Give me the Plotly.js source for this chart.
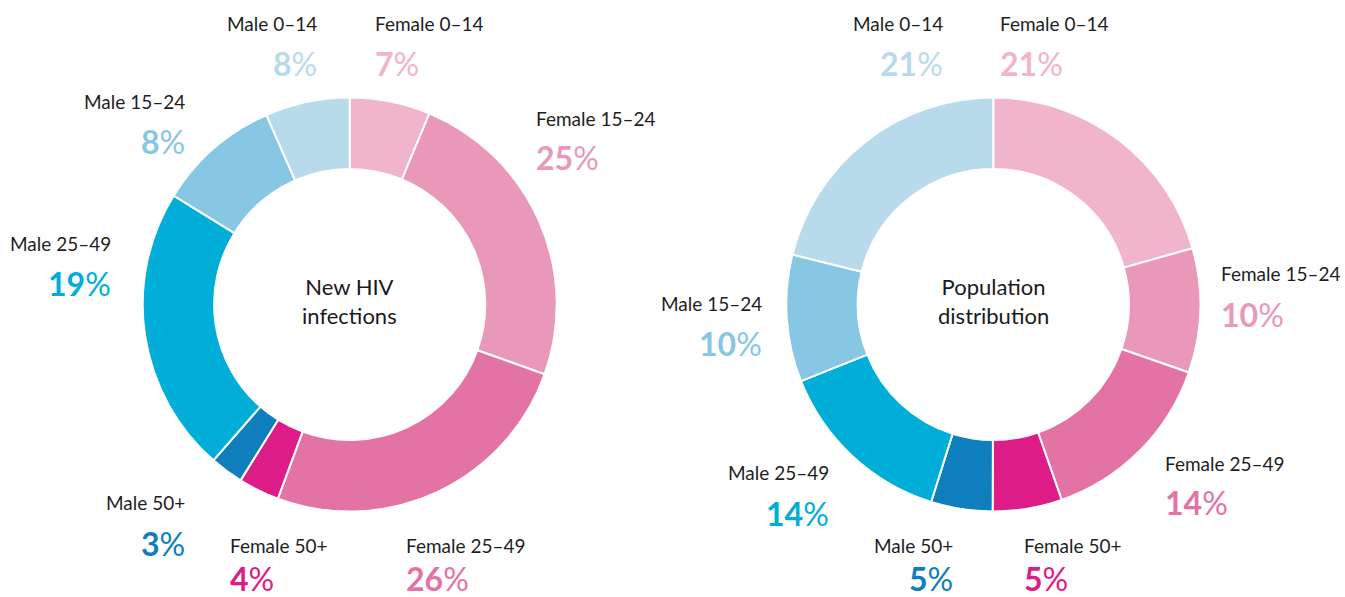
<!DOCTYPE html>
<html>
<head>
<meta charset="utf-8">
<script src="https://cdn.plot.ly/plotly-3.0.1.min.js"></script>
<style>
  html, body { margin: 0; padding: 0; background: #ffffff; }
  #chart { width: 1345px; height: 597px; }
</style>
</head>
<body>
<div id="chart"></div>
<script>
// ---- DATA ----
const categories = ["Female 0–14", "Female 15–24", "Female 25–49", "Female 50+",
                    "Male 50+", "Male 25–49", "Male 15–24", "Male 0–14"];
// slice sizes as drawn in the picture
const newInfectionsShare = [6.3, 24.2, 25.2, 3.2, 2.6, 22.4, 9.6, 6.6];
const populationShare    = [20.6, 9.7, 14.3, 5.4, 4.8, 14.1, 9.9, 21.1];
// printed percentage labels
const newInfectionsLabels = [7, 25, 26, 4, 3, 19, 8, 8];
const populationLabels    = [21, 10, 14, 5, 5, 14, 10, 21];
const centerTitles = ["New HIV<br>infections", "Population<br>distribution"];

// ---- STYLE / PLACEMENT ----
const colors = ["#f0b5cd", "#e998b9", "#e473a5", "#dd1c87",
                "#0e7fbc", "#00aed8", "#88c7e3", "#b8dbec"];
const W = 1345, H = 597;
const FONT = "Lato, 'Noto Sans', sans-serif";

// label anchor (pixel) per category: [x, nameY, pctY, align]
const leftPos = [
  [373, 24, 64, "left"],
  [534, 118, 157, "left"],
  [404, 545, 578, "left"],
  [228, 545, 578, "left"],
  [187, 503, 543, "right"],
  [113, 243, 283, "right"],
  [187, 102, 141, "right"],
  [319, 24, 64, "right"]
];
const rightPos = [
  [998, 24, 64, "left"],
  [1219, 273, 314, "left"],
  [1163, 463, 502, "left"],
  [1022, 545, 578, "left"],
  [955, 545, 578, "right"],
  [831, 473, 513, "right"],
  [764, 303, 343, "right"],
  [945, 24, 64, "right"]
];

function px(x) { return x / W; }
function py(y) { return 1 - y / H; }

function pieTrace(values, cx) {
  const r = 207, cy = 304.5;
  return {
    type: "pie",
    labels: categories,
    values: values,
    sort: false,
    direction: "clockwise",
    rotation: 0,
    hole: 0.655,
    textinfo: "none",
    hoverinfo: "label+percent",
    showlegend: false,
    marker: { colors: colors, line: { color: "#ffffff", width: 2 } },
    domain: { x: [px(cx - r), px(cx + r)], y: [py(cy + r), py(cy - r)] }
  };
}

const annotations = [];
function addLabels(pos, pcts) {
  categories.forEach((name, i) => {
    const [x, ny, pyy, align] = pos[i];
    annotations.push({
      xref: "paper", yref: "paper", x: px(x), y: py(ny),
      xanchor: align, yanchor: "middle", showarrow: false,
      text: name, font: { family: FONT, size: 19, color: "#1e1e1e" }
    });
    annotations.push({
      xref: "paper", yref: "paper", x: px(x), y: py(pyy),
      xanchor: align, yanchor: "middle", showarrow: false,
      text: "<b>" + pcts[i] + "</b>%", font: { family: FONT, size: 32, color: colors[i] }
    });
  });
}
addLabels(leftPos, newInfectionsLabels);
addLabels(rightPos, populationLabels);

[[349.7, centerTitles[0]], [993.3, centerTitles[1]]].forEach(([cx, t]) => {
  annotations.push({
    xref: "paper", yref: "paper", x: px(cx), y: py(301),
    xanchor: "center", yanchor: "middle", showarrow: false,
    text: t, font: { family: FONT, size: 22, color: "#1a1a1a" }
  });
});

const data = [pieTrace(newInfectionsShare, 349.7), pieTrace(populationShare, 993.3)];
const layout = {
  width: W, height: H,
  margin: { l: 0, r: 0, t: 0, b: 0 },
  paper_bgcolor: "#ffffff",
  showlegend: false,
  annotations: annotations
};
Plotly.newPlot("chart", data, layout, { displayModeBar: false, staticPlot: true });
</script>
</body>
</html>
